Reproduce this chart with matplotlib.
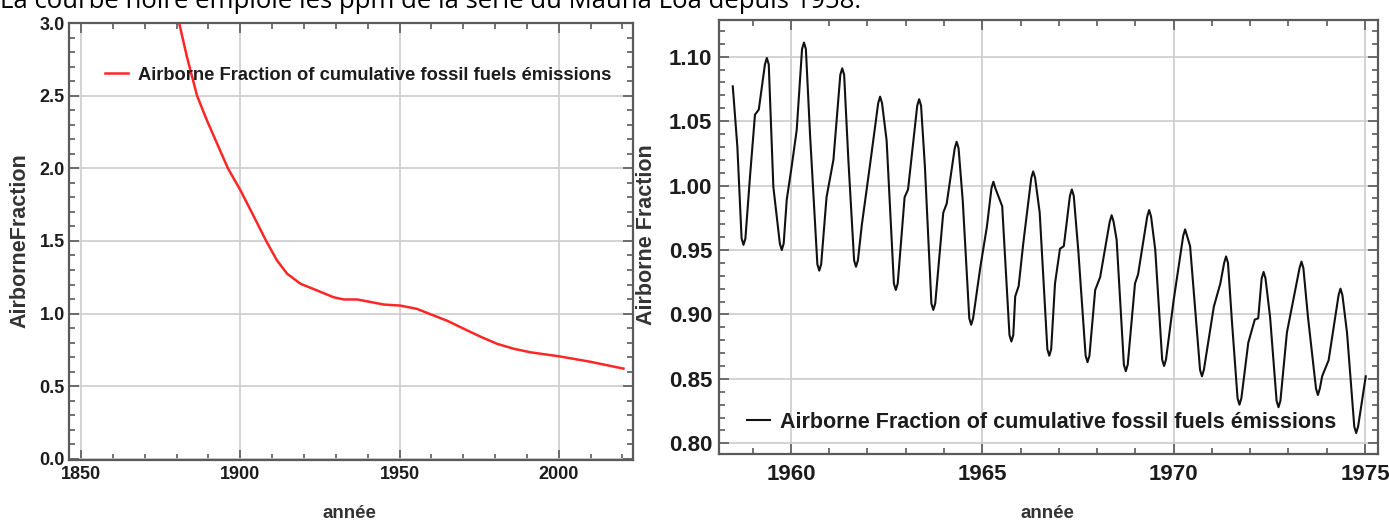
import numpy as np
import matplotlib.pyplot as plt
from matplotlib.ticker import MultipleLocator

# left panel: airborne fraction of cumulative fossil emissions (red)
years_long = [1880.8, 1883.2, 1886.4, 1889.5, 1892.7, 1896.1, 1900.0, 1904.2, 1908.1,
              1911.5, 1914.7, 1918.9, 1924.1, 1929.3, 1932.5, 1936.7, 1945.1, 1950.2,
              1955.5, 1959.4, 1965.0, 1970.2, 1975.5, 1980.7, 1986.0, 1991.2, 2000.0,
              2009.7, 2020.3]
af_long = [3.0, 2.77, 2.50, 2.33, 2.17, 2.0, 1.85, 1.67, 1.50,
           1.366, 1.274, 1.205, 1.159, 1.112, 1.097, 1.097, 1.062, 1.055,
           1.032, 0.998, 0.95, 0.895, 0.84, 0.791, 0.757, 0.733, 0.706,
           0.669, 0.621]

# right panel: Mauna Loa based airborne fraction 1958-1975 (black)
years_ml = [1958.48, 1958.60, 1958.71, 1958.76, 1958.81, 1958.93, 1959.06, 1959.16,
            1959.32, 1959.37, 1959.42, 1959.54, 1959.71, 1959.76, 1959.81, 1959.89,
            1960.02, 1960.15, 1960.29, 1960.34, 1960.39, 1960.50, 1960.69, 1960.74,
            1960.79, 1960.93, 1961.11, 1961.29, 1961.34, 1961.39, 1961.50, 1961.65,
            1961.70, 1961.75, 1961.85, 1962.07, 1962.28, 1962.33, 1962.38, 1962.50,
            1962.69, 1962.74, 1962.79, 1962.97, 1963.06, 1963.30, 1963.35, 1963.40,
            1963.50, 1963.67, 1963.72, 1963.77, 1963.98, 1964.07, 1964.28, 1964.33,
            1964.38, 1964.49, 1964.66, 1964.71, 1964.76, 1964.95, 1965.12, 1965.24,
            1965.29, 1965.34, 1965.52, 1965.71, 1965.76, 1965.81, 1965.86, 1965.95,
            1966.07, 1966.28, 1966.33, 1966.38, 1966.50, 1966.70, 1966.75, 1966.80,
            1966.90, 1967.03, 1967.13, 1967.29, 1967.34, 1967.39, 1967.51, 1967.70,
            1967.75, 1967.80, 1967.95, 1968.08, 1968.33, 1968.38, 1968.43, 1968.51,
            1968.70, 1968.75, 1968.80, 1968.99, 1969.07, 1969.31, 1969.36, 1969.41,
            1969.52, 1969.70, 1969.75, 1969.80, 1970.00, 1970.25, 1970.30, 1970.35,
            1970.43, 1970.69, 1970.74, 1970.79, 1971.05, 1971.22, 1971.32, 1971.37,
            1971.42, 1971.52, 1971.67, 1971.72, 1971.77, 1971.95, 1972.12, 1972.21,
            1972.30, 1972.35, 1972.40, 1972.52, 1972.69, 1972.74, 1972.79, 1972.96,
            1973.29, 1973.34, 1973.39, 1973.51, 1973.72, 1973.77, 1973.82, 1973.88,
            1974.05, 1974.31, 1974.36, 1974.41, 1974.53, 1974.72, 1974.77, 1974.82,
            1975.02]
af_ml = [1.077, 1.030, 0.959, 0.954, 0.959, 1.007, 1.055, 1.059,
         1.094, 1.099, 1.094, 0.999, 0.955, 0.950, 0.955, 0.989,
         1.015, 1.043, 1.106, 1.111, 1.106, 1.039, 0.939, 0.934,
         0.939, 0.991, 1.020, 1.086, 1.091, 1.086, 1.020, 0.942,
         0.937, 0.942, 0.969, 1.017, 1.064, 1.069, 1.064, 1.035,
         0.924, 0.919, 0.924, 0.991, 0.997, 1.062, 1.067, 1.062,
         1.015, 0.9085, 0.9035, 0.9085, 0.979, 0.986, 1.029, 1.034,
         1.029, 0.988, 0.897, 0.892, 0.897, 0.937, 0.968, 0.998,
         1.003, 0.998, 0.984, 0.884, 0.879, 0.884, 0.914, 0.922,
         0.955, 1.006, 1.011, 1.006, 0.979, 0.873, 0.868, 0.873,
         0.924, 0.951, 0.953, 0.992, 0.997, 0.992, 0.949, 0.868,
         0.863, 0.868, 0.919, 0.929, 0.972, 0.977, 0.972, 0.958,
         0.861, 0.856, 0.861, 0.924, 0.931, 0.976, 0.981, 0.976,
         0.950, 0.865, 0.860, 0.865, 0.911, 0.961, 0.966, 0.961,
         0.953, 0.857, 0.852, 0.857, 0.906, 0.924, 0.940, 0.945,
         0.940, 0.896, 0.835, 0.830, 0.835, 0.878, 0.896, 0.897,
         0.928, 0.933, 0.928, 0.898, 0.833, 0.828, 0.833, 0.886,
         0.936, 0.941, 0.936, 0.898, 0.8425, 0.8375, 0.8425, 0.852,
         0.8645, 0.915, 0.920, 0.915, 0.886, 0.813, 0.808, 0.813,
         0.852]

LABEL = "Airborne Fraction of cumulative fossil fuels émissions"

ARIAL = ['Liberation Sans', 'DejaVu Sans']
TXT = '#1c1c1c'
SPINE = '#5a5a5a'
W, H = 1389, 524


def style_axes(ax, size, xpad, ypad):
    for s in ax.spines.values():
        s.set_color(SPINE)
        s.set_linewidth(1.6)
    ax.tick_params(which='both', direction='in', top=True, right=True,
                   color=SPINE, width=1.2, labelcolor=TXT)
    ax.tick_params(which='major', length=7)
    ax.tick_params(which='minor', length=4)
    ax.tick_params(axis='x', which='major', pad=xpad)
    ax.tick_params(axis='y', which='major', pad=ypad)
    ax.grid(True, which='major', color='#cccccc', linewidth=1.2)
    ax.set_axisbelow(True)
    for lab in ax.get_xticklabels() + ax.get_yticklabels():
        lab.set_fontfamily(ARIAL)
        lab.set_fontweight('bold')
        lab.set_fontsize(size)


fig = plt.figure(figsize=(W / 100, H / 100), dpi=100)

fig.text(0.0, 1 - 7.5 / H, "La courbe noire emploie les ppm de la série du Mauna Loa depuis 1958.",
         fontsize=18.5, family='Open Sans', color='black', va='baseline', ha='left')

# left panel
ax1 = fig.add_axes([69 / W, 1 - 460 / H, (633 - 69) / W, (460 - 23) / H])
ax1.plot(years_long, af_long, color='#ff2626', linewidth=1.8, label=LABEL,
         solid_joinstyle='round')
ax1.set_xlim(1846.2, 2023.3)
ax1.set_ylim(-0.008, 3.0)
ax1.set_xticks([1850, 1900, 1950, 2000])
ax1.set_xticklabels(['1850', '1900', '1950', '2000'])
ax1.xaxis.set_minor_locator(MultipleLocator(10))
ax1.set_yticks([0, 0.5, 1.0, 1.5, 2.0, 2.5, 3.0])
ax1.set_yticklabels(['0.0', '0.5', '1.0', '1.5', '2.0', '2.5', '3.0'])
ax1.yaxis.set_minor_locator(MultipleLocator(0.1))
style_axes(ax1, 13, 4, 3)
ax1.legend(loc='center left', bbox_to_anchor=((105 - 69) / 564, (460 - 75) / 437),
           frameon=False, borderpad=0, borderaxespad=0,
           handlelength=1.25, handletextpad=0.55,
           prop={'family': ARIAL, 'weight': 'bold', 'size': 13.2})
for t in ax1.get_legend().get_texts():
    t.set_color(TXT)
fig.text(20 / W, 1 - 241 / H, "AirborneFraction", rotation=90, ha='center', va='center',
         family=ARIAL, weight='bold', fontsize=15.5, color='#333333')
fig.text(349 / W, 1 - 513 / H, "année", ha='center', va='center',
         family=ARIAL, weight='bold', fontsize=13.5, color='#333333')

# right panel
ax2 = fig.add_axes([719 / W, 1 - 454 / H, (1378 - 719) / W, (454 - 20) / H])
ax2.plot(years_ml, af_ml, color='#111111', linewidth=1.5, label=LABEL,
         solid_joinstyle='round')
ax2.set_xlim(1958.12, 1975.34)
ax2.set_ylim(0.7917, 1.1285)
ax2.set_xticks([1960, 1965, 1970, 1975])
ax2.set_xticklabels(['1960', '1965', '1970', '1975'])
ax2.xaxis.set_minor_locator(MultipleLocator(1))
ax2.set_yticks([0.80, 0.85, 0.90, 0.95, 1.00, 1.05, 1.10])
ax2.set_yticklabels(['0.80', '0.85', '0.90', '0.95', '1.00', '1.05', '1.10'])
ax2.yaxis.set_minor_locator(MultipleLocator(0.01))
style_axes(ax2, 16, 7, 5)
ax2.legend(loc='center left', bbox_to_anchor=((747 - 719) / 659, (454 - 422) / 434),
           frameon=False, borderpad=0, borderaxespad=0,
           handlelength=1.07, handletextpad=0.47,
           prop={'family': ARIAL, 'weight': 'bold', 'size': 15.5})
for t in ax2.get_legend().get_texts():
    t.set_color(TXT)
fig.text(647 / W, 1 - 235 / H, "Airborne Fraction", rotation=90, ha='center', va='center',
         family=ARIAL, weight='bold', fontsize=15.5, color='#333333')
fig.text(1047 / W, 1 - 513 / H, "année", ha='center', va='center',
         family=ARIAL, weight='bold', fontsize=13.5, color='#333333')

fig.savefig('out.png', dpi=100)
